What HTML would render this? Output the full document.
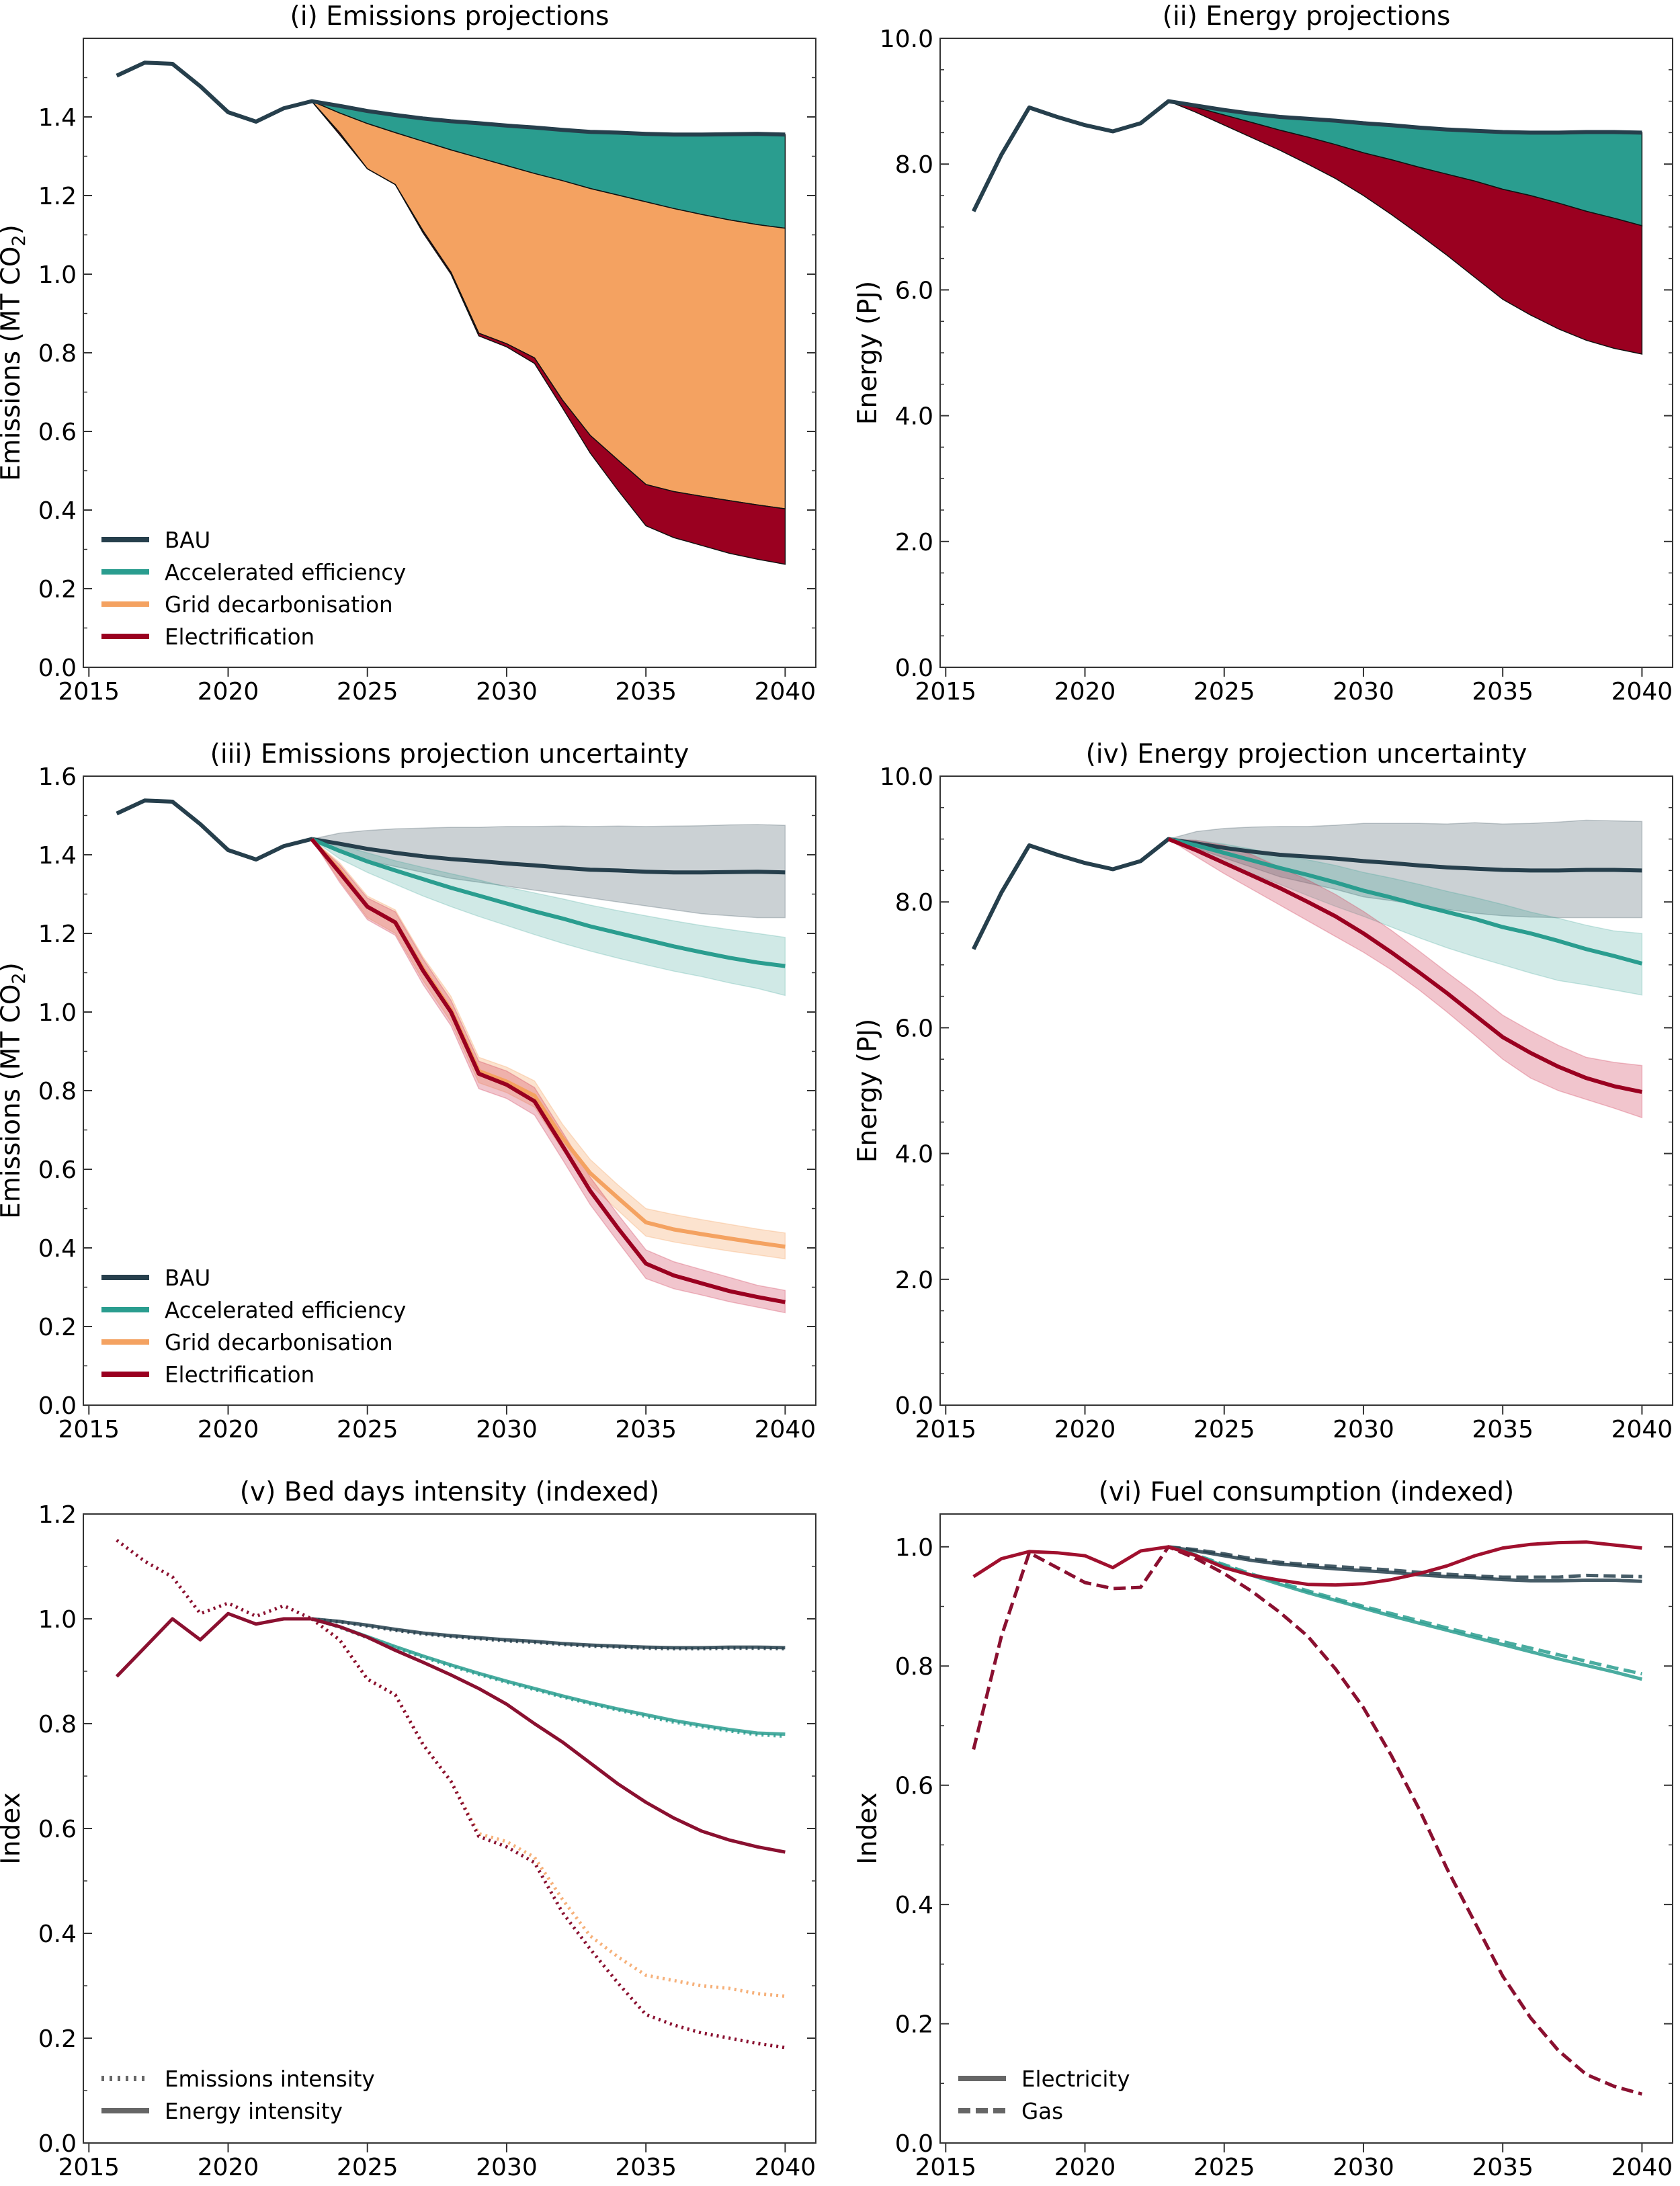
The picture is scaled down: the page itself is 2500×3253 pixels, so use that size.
<!DOCTYPE html>
<html><head><meta charset="utf-8"><style>
html,body{margin:0;padding:0;background:#fff;}
svg{display:block;font-family:"DejaVu Sans","Liberation Sans",sans-serif;}
</style></head><body>
<svg id="fig" width="2500" height="3253" viewBox="0 0 2500 3253" xmlns="http://www.w3.org/2000/svg"></svg>
<script>
const years=[2016,2017,2018,2019,2020,2021,2022,2023,2024,2025,2026,2027,2028,2029,2030,2031,2032,2033,2034,2035,2036,2037,2038,2039,2040];
const projYears=[2023,2024,2025,2026,2027,2028,2029,2030,2031,2032,2033,2034,2035,2036,2037,2038,2039,2040];
// Emissions (MT CO2)
const emBAU=[1.505,1.538,1.535,1.478,1.412,1.388,1.422,1.440,1.428,1.415,1.405,1.396,1.389,1.384,1.378,1.373,1.367,1.362,1.360,1.357,1.355,1.355,1.356,1.357,1.355];
const emAE=[1.44,1.41,1.383,1.36,1.338,1.316,1.296,1.276,1.256,1.238,1.218,1.201,1.184,1.167,1.152,1.138,1.126,1.117];
const emGrid=[1.44,1.36,1.268,1.228,1.11,1.005,0.85,0.823,0.787,0.68,0.59,0.527,0.465,0.447,0.435,0.424,0.413,0.403];
const emElec=[1.44,1.355,1.268,1.228,1.105,1.0,0.843,0.815,0.773,0.66,0.545,0.45,0.36,0.33,0.31,0.29,0.275,0.262];
const emBAUlo=[1.44,1.41,1.385,1.37,1.355,1.34,1.33,1.32,1.31,1.3,1.29,1.28,1.27,1.26,1.25,1.245,1.24,1.24];
const emBAUhi=[1.44,1.455,1.462,1.466,1.468,1.47,1.47,1.472,1.472,1.473,1.472,1.473,1.472,1.473,1.474,1.476,1.477,1.475];
const emAElo=[1.44,1.39,1.355,1.325,1.295,1.268,1.243,1.22,1.197,1.175,1.155,1.137,1.12,1.104,1.09,1.074,1.06,1.042];
const emAEhi=[1.44,1.425,1.405,1.385,1.368,1.352,1.336,1.318,1.303,1.288,1.272,1.258,1.245,1.232,1.22,1.21,1.2,1.19];
const emGridlo=[1.44,1.335,1.24,1.2,1.08,0.975,0.82,0.795,0.758,0.65,0.56,0.495,0.43,0.415,0.403,0.392,0.382,0.372];
const emGridhi=[1.44,1.38,1.295,1.26,1.14,1.04,0.885,0.86,0.825,0.715,0.625,0.56,0.5,0.485,0.472,0.46,0.448,0.438];
const emEleclo=[1.44,1.33,1.235,1.195,1.07,0.965,0.805,0.78,0.738,0.625,0.51,0.415,0.322,0.296,0.28,0.263,0.249,0.235];
const emElechi=[1.44,1.375,1.29,1.255,1.135,1.03,0.875,0.85,0.808,0.695,0.58,0.485,0.395,0.365,0.345,0.325,0.305,0.292];
// Energy (PJ)
const enBAU=[7.25,8.15,8.9,8.75,8.62,8.52,8.65,9.0,8.93,8.86,8.8,8.75,8.72,8.69,8.65,8.62,8.58,8.55,8.53,8.51,8.5,8.5,8.51,8.51,8.5];
const enAE=[9.0,8.9,8.78,8.66,8.54,8.43,8.31,8.18,8.07,7.95,7.84,7.73,7.6,7.5,7.38,7.25,7.14,7.02];
const enElec=[9.0,8.82,8.62,8.42,8.22,8.0,7.77,7.5,7.2,6.88,6.55,6.2,5.85,5.6,5.38,5.2,5.07,4.98];
const enBAUlo=[9.0,8.85,8.7,8.55,8.4,8.3,8.2,8.08,8.02,7.95,7.88,7.82,7.78,7.76,7.75,7.75,7.75,7.75];
const enBAUhi=[9.0,9.12,9.17,9.19,9.2,9.2,9.22,9.25,9.25,9.25,9.24,9.26,9.24,9.25,9.27,9.3,9.29,9.28];
const enAElo=[9.0,8.8,8.62,8.45,8.28,8.1,7.93,7.77,7.6,7.43,7.27,7.13,7.0,6.87,6.75,6.68,6.6,6.52];
const enAEhi=[9.0,8.98,8.92,8.84,8.75,8.67,8.58,8.47,8.38,8.28,8.17,8.07,7.96,7.84,7.74,7.63,7.54,7.5];
const enEleclo=[9.0,8.72,8.45,8.2,7.95,7.7,7.45,7.2,6.92,6.6,6.25,5.88,5.5,5.2,5.0,4.86,4.72,4.57];
const enElechi=[9.0,8.98,8.9,8.75,8.55,8.35,8.12,7.85,7.55,7.22,6.88,6.55,6.2,5.95,5.72,5.53,5.45,5.4];
// Bed days intensity (index)
const biHistEm=[1.15,1.11,1.08,1.01,1.03,1.005,1.025,1.0];
const biHistEn=[0.89,0.945,1.0,0.96,1.01,0.99,1.0,1.0];
const biBAUen=[1.0,0.995,0.988,0.98,0.973,0.968,0.964,0.96,0.957,0.953,0.95,0.948,0.946,0.945,0.945,0.946,0.946,0.945];
const biBAUem=[1.0,0.994,0.986,0.978,0.971,0.966,0.962,0.958,0.955,0.951,0.948,0.946,0.944,0.943,0.943,0.944,0.944,0.943];
const biAEen=[1.0,0.985,0.966,0.947,0.929,0.912,0.896,0.881,0.867,0.853,0.84,0.828,0.817,0.806,0.797,0.789,0.782,0.78];
const biAEem=[1.0,0.984,0.964,0.945,0.927,0.91,0.894,0.879,0.865,0.851,0.838,0.826,0.814,0.803,0.794,0.786,0.779,0.776];
const biElecen=[1.0,0.985,0.965,0.94,0.917,0.893,0.867,0.837,0.8,0.765,0.725,0.685,0.65,0.62,0.595,0.578,0.565,0.555];
const biGridem=[1.0,0.96,0.885,0.855,0.76,0.69,0.59,0.575,0.545,0.465,0.395,0.355,0.32,0.31,0.3,0.295,0.285,0.28];
const biElecem=[1.0,0.96,0.885,0.855,0.76,0.69,0.585,0.565,0.535,0.44,0.37,0.305,0.245,0.225,0.21,0.2,0.19,0.182];
// Fuel consumption (index)
const fcElecElec=[0.95,0.98,0.992,0.99,0.985,0.965,0.993,1.0,0.985,0.965,0.952,0.944,0.937,0.936,0.938,0.945,0.955,0.968,0.985,0.998,1.004,1.007,1.008,1.003,0.998];
const fcElecGas=[0.66,0.85,0.99,0.965,0.94,0.93,0.932,1.0,0.98,0.955,0.925,0.89,0.85,0.795,0.73,0.65,0.56,0.46,0.37,0.28,0.21,0.155,0.115,0.095,0.082];
const fcBAUElec=[1.0,0.993,0.985,0.977,0.971,0.967,0.963,0.96,0.957,0.953,0.95,0.948,0.945,0.943,0.943,0.944,0.944,0.942];
const fcBAUGas=[1.0,0.995,0.988,0.98,0.974,0.97,0.967,0.964,0.961,0.957,0.954,0.951,0.949,0.949,0.949,0.952,0.951,0.95];
const fcAEElec=[1.0,0.985,0.968,0.952,0.937,0.923,0.91,0.897,0.884,0.872,0.86,0.848,0.836,0.824,0.812,0.801,0.79,0.778];
const fcAEGas=[1.0,0.986,0.97,0.954,0.94,0.926,0.913,0.9,0.888,0.876,0.864,0.852,0.841,0.83,0.819,0.808,0.797,0.787];
const xTicks=[2015,2020,2025,2030,2035,2040];
const emTickLabels=['0.0','0.2','0.4','0.6','0.8','1.0','1.2','1.4'];
const emTickLabels3=['0.0','0.2','0.4','0.6','0.8','1.0','1.2','1.4','1.6'];
const enTickLabels=['0.0','2.0','4.0','6.0','8.0','10.0'];
const idxTickLabels5=['0.0','0.2','0.4','0.6','0.8','1.0','1.2'];
const idxTickLabels6=['0.0','0.2','0.4','0.6','0.8','1.0'];

const C={bau:'#263f4c',ae:'#2a9d8f',grid:'#f4a261',elec:'#9a0020'};
const NS='http://www.w3.org/2000/svg';
const svg=document.getElementById('fig');
function mk(tag,attrs,parent){const e=document.createElementNS(NS,tag);for(const k in attrs)e.setAttribute(k,attrs[k]);(parent||svg).appendChild(e);return e;}

function panel(o){
  const g=mk('g',{});
  
  
  const L=o.L,T=o.T,W=1090,H=936,B=T+H;
  const xs=v=>L+(v-2014.8)/(2041.1-2014.8)*W;
  const ys=v=>B-(v/o.ymax)*H;
  o.xs=xs;o.ys=ys;o.g=g;
  const clip='c'+o.name;
  const cp=mk('clipPath',{id:clip},g);mk('rect',{x:L,y:T,width:W,height:H},cp);
  o.plot=mk('g',{'clip-path':'url(#'+clip+')'},g);
  o.draw(o);
  const fr=mk('rect',{x:L,y:T,width:W,height:H,fill:'none',stroke:'#333','stroke-width':2},g);
  
  xTicks.forEach(t=>{const x=xs(t);
    mk('line',{x1:x,x2:x,y1:B,y2:B+14,stroke:'#333','stroke-width':2},g);
    const tx=mk('text',{x:x,y:B+48,'font-size':36,'text-anchor':'middle',fill:'#000'},g);tx.textContent=t;
    });
  o.labels.forEach((lb,i)=>{const y=ys(i*o.major);
    mk('line',{x1:L,x2:L+13,y1:y,y2:y,stroke:'#333','stroke-width':2},g);
    mk('line',{x1:L+W,x2:L+W-13,y1:y,y2:y,stroke:'#333','stroke-width':2},g);
    const tx=mk('text',{x:L-10,y:y+13,'font-size':36,'text-anchor':'end',fill:'#000'},g);tx.textContent=lb;
    });
  for(let v=0;v<=o.ymax+1e-9;v+=o.minor){const y=ys(v);
    mk('line',{x1:L,x2:L+6,y1:y,y2:y,stroke:'#333','stroke-width':1.5},g);
    mk('line',{x1:L+W,x2:L+W-6,y1:y,y2:y,stroke:'#333','stroke-width':1.5},g);}
  const ti=mk('text',{x:L+W/2,y:T-20,'font-size':39,'text-anchor':'middle',fill:'#000'},g);ti.textContent=o.title;
  
  const yl=mk('text',{x:0,y:0,'font-size':39,'text-anchor':'middle',fill:'#000',transform:'translate('+(L-95)+','+(T+H/2)+') rotate(-90)'},g);
  yl.innerHTML=o.ylabel;
  
  if(o.legend){o.legend.forEach((e,i)=>{const y=o.legY+i*48;
    const ln=mk('line',{x1:L+27,x2:L+98,y1:y,y2:y,stroke:e.c,'stroke-width':8,'stroke-dasharray':e.d||'none'},g);
    
    const tx=mk('text',{x:L+121,y:y+12,'font-size':32.5,fill:'#000'},g);tx.textContent=e.t;
    });}
}
function pts(o,xsArr,vals){return vals.map((v,i)=>o.xs(xsArr[i]).toFixed(1)+','+o.ys(v).toFixed(1));}
function line(o,xsArr,vals,c,w,dash,name,op){const p=mk('polyline',{points:pts(o,xsArr,vals).join(' '),fill:'none',stroke:c,'stroke-width':w,'stroke-linejoin':'round','stroke-dasharray':dash||'none',opacity:op||1},o.plot);
  return p;}
function band(o,xsArr,hi,lo,c,op,name,edge){const a=pts(o,xsArr,hi),b=pts(o,xsArr,lo).reverse();
  const p=mk('polygon',{points:a.concat(b).join(' '),fill:c,'fill-opacity':op,stroke:edge||c,'stroke-opacity':edge?1:op,'stroke-width':1.5},o.plot);
  return p;}
const histYears=years.slice(0,8);
const leg4=[{c:C.bau,t:'BAU'},{c:C.ae,t:'Accelerated efficiency'},{c:C.grid,t:'Grid decarbonisation'},{c:C.elec,t:'Electrification'}];
const bauProj=a=>a.slice(7);

panel({name:'panel-emissions-projections',L:124,T:57,ymax:1.6,major:0.2,minor:0.1,labels:emTickLabels,title:'(i) Emissions projections',
 ylabel:'Emissions (MT CO<tspan font-size="27" dy="8">2</tspan><tspan dy="-8">)</tspan>',legend:leg4,legY:803,
 draw:o=>{band(o,projYears,bauProj(emBAU),emAE,C.ae,1,'area-accelerated-efficiency','#111');
  band(o,projYears,emAE,emGrid,C.grid,1,'area-grid-decarbonisation','#111');
  band(o,projYears,emGrid,emElec,C.elec,1,'area-electrification','#111');
  line(o,years,emBAU,C.bau,6,null,'line-bau');}});
panel({name:'panel-energy-projections',L:1399,T:57,ymax:10,major:2,minor:0.5,labels:enTickLabels,title:'(ii) Energy projections',ylabel:'Energy (PJ)',
 draw:o=>{band(o,projYears,bauProj(enBAU),enAE,C.ae,1,'area-accelerated-efficiency','#111');
  band(o,projYears,enAE,enElec,C.elec,1,'area-electrification','#111');
  line(o,years,enBAU,C.bau,6,null,'line-bau');}});
panel({name:'panel-emissions-uncertainty',L:124,T:1155,ymax:1.6,major:0.2,minor:0.1,labels:emTickLabels3,title:'(iii) Emissions projection uncertainty',
 ylabel:'Emissions (MT CO<tspan font-size="27" dy="8">2</tspan><tspan dy="-8">)</tspan>',legend:leg4,legY:1901,
 draw:o=>{band(o,projYears,emBAUhi,emBAUlo,C.bau,0.24,'band-bau');
  band(o,projYears,emAEhi,emAElo,C.ae,0.22,'band-accelerated-efficiency');
  band(o,projYears,emGridhi,emGridlo,C.grid,0.3,'band-grid-decarbonisation');
  band(o,projYears,emElechi,emEleclo,'#d0405a',0.3,'band-electrification');
  line(o,years,emBAU,C.bau,6,null,'line-bau');line(o,projYears,emAE,C.ae,6,null,'line-accelerated-efficiency');
  line(o,projYears,emGrid,C.grid,6,null,'line-grid-decarbonisation');line(o,projYears,emElec,C.elec,6,null,'line-electrification');}});
panel({name:'panel-energy-uncertainty',L:1399,T:1155,ymax:10,major:2,minor:0.5,labels:enTickLabels,title:'(iv) Energy projection uncertainty',ylabel:'Energy (PJ)',
 draw:o=>{band(o,projYears,enBAUhi,enBAUlo,C.bau,0.24,'band-bau');
  band(o,projYears,enAEhi,enAElo,C.ae,0.22,'band-accelerated-efficiency');
  band(o,projYears,enElechi,enEleclo,'#d0405a',0.3,'band-electrification');
  line(o,years,enBAU,C.bau,6,null,'line-bau');line(o,projYears,enAE,C.ae,6,null,'line-accelerated-efficiency');
  line(o,projYears,enElec,C.elec,6,null,'line-electrification');}});
panel({name:'panel-bed-days-intensity',L:124,T:2253,ymax:1.2,major:0.2,minor:0.1,labels:idxTickLabels5,title:'(v)  Bed days intensity (indexed)',ylabel:'Index',
 legend:[{c:'#666',t:'Emissions intensity',d:'4 8'},{c:'#666',t:'Energy intensity'}],legY:3093,
 draw:o=>{line(o,histYears,biHistEm,'#8a1030',5,'3 6','line-hist-emissions-intensity');
  line(o,histYears,biHistEn,'#8a1030',5,null,'line-hist-energy-intensity');
  line(o,projYears,biBAUem,C.bau,5,'3 6','line-bau-emissions-intensity',0.85);
  line(o,projYears,biBAUen,C.bau,5,null,'line-bau-energy-intensity',0.85);
  line(o,projYears,biAEem,C.ae,5,'3 6','line-ae-emissions-intensity',0.85);
  line(o,projYears,biAEen,C.ae,5,null,'line-ae-energy-intensity',0.85);
  line(o,projYears,biGridem,C.grid,5,'3 6','line-grid-emissions-intensity',0.85);
  line(o,projYears,biElecem,'#8a1030',5,'3 6','line-elec-emissions-intensity');
  line(o,projYears,biElecen,'#8a1030',5,null,'line-elec-energy-intensity');}});
panel({name:'panel-fuel-consumption',L:1399,T:2253,ymax:1.055,major:0.2,minor:0.1,labels:idxTickLabels6,title:'(vi)  Fuel consumption (indexed)',ylabel:'Index',
 legend:[{c:'#666',t:'Electricity'},{c:'#666',t:'Gas',d:'18 8'}],legY:3093,
 draw:o=>{line(o,projYears,fcBAUGas,C.bau,5,'18 8','line-bau-gas',0.85);
  line(o,projYears,fcBAUElec,C.bau,5,null,'line-bau-electricity',0.85);
  line(o,projYears,fcAEGas,C.ae,5,'18 8','line-ae-gas',0.85);
  line(o,projYears,fcAEElec,C.ae,5,null,'line-ae-electricity',0.85);
  line(o,years,fcElecGas,'#8a1030',5,'18 8','line-elec-gas');
  line(o,years,fcElecElec,'#a0102e',5,null,'line-elec-electricity');}});
</script>
</body></html>
